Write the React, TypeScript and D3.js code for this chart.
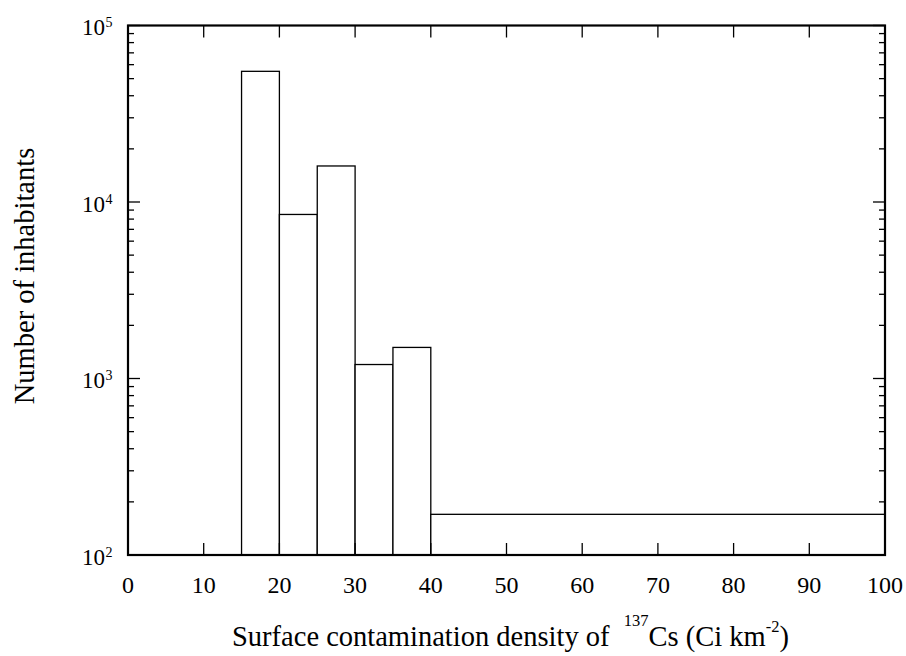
import React from "react";
import * as d3 from "d3";

const binStarts = [15, 20, 25, 30, 35, 40];
const binEnds = [20, 25, 30, 35, 40, 100];
const inhabitants = [55000, 8500, 16000, 1200, 1500, 170];
const xTicks = [0, 10, 20, 30, 40, 50, 60, 70, 80, 90, 100];
const yDecades = [2, 3, 4, 5];

const W = 906;
const H = 656;
const M = { left: 128, right: 21, top: 25.5, bottom: 101 };

export default function App() {
  const x = d3.scaleLinear().domain([0, 100]).range([M.left, W - M.right]);
  const y = d3.scaleLog().domain([100, 100000]).range([H - M.bottom, M.top]);
  const fs = { fontFamily: "Liberation Serif" };
  const minor: number[] = [];
  for (let d = 2; d < 5; d++) {
    for (let k = 2; k <= 9; k++) minor.push(k * Math.pow(10, d));
  }
  const x0 = x(0), x1 = x(100), yTop = y(100000), yBot = y(100);
  return (
    <svg width={W} height={H} style={{ position: "absolute", left: 0, top: 0, background: "#fff" }}>
      <rect x={0} y={0} width={W} height={H} fill="#fff" />
      {binStarts.map((s, i) => (
        <rect key={i} x={x(s)} y={y(inhabitants[i])} width={x(binEnds[i]) - x(s)}
          height={yBot - y(inhabitants[i])} fill="#fff" stroke="#000" strokeWidth={1.3} />
      ))}
      {xTicks.map((t) => (
        <g key={t}>
          <line x1={x(t)} x2={x(t)} y1={yBot} y2={yBot - 12} stroke="#000" strokeWidth={1.3} />
          <line x1={x(t)} x2={x(t)} y1={yTop} y2={yTop + 12} stroke="#000" strokeWidth={1.3} />
          <text x={x(t)} y={593} textAnchor="middle" style={fs} fontSize={24}>{t}</text>
        </g>
      ))}
      {yDecades.map((d) => (
        <g key={d}>
          <line x1={x0} x2={x0 + 12} y1={y(Math.pow(10, d))} y2={y(Math.pow(10, d))} stroke="#000" strokeWidth={1.3} />
          <line x1={x1} x2={x1 - 12} y1={y(Math.pow(10, d))} y2={y(Math.pow(10, d))} stroke="#000" strokeWidth={1.3} />
          <text x={105} y={y(Math.pow(10, d)) + 9.5} textAnchor="end" style={fs} fontSize={23}>10</text>
          <text x={105.5} y={y(Math.pow(10, d)) + 1.5} textAnchor="start" style={fs} fontSize={14}>{d}</text>
        </g>
      ))}
      {minor.map((v) => (
        <g key={v}>
          <line x1={x0} x2={x0 + 6} y1={y(v)} y2={y(v)} stroke="#000" strokeWidth={1.3} />
          <line x1={x1} x2={x1 - 6} y1={y(v)} y2={y(v)} stroke="#000" strokeWidth={1.3} />
        </g>
      ))}
      <rect x={x0} y={yTop} width={x1 - x0} height={yBot - yTop} fill="none" stroke="#000" strokeWidth={2.2} />
      <text x={232} y={646} style={fs} fontSize={28.5}>
        Surface contamination density of{"\u00A0\u00A0"}
        <tspan fontSize={16.5} dy={-20}>137</tspan>
        <tspan dy={20}>Cs (Ci km</tspan>
        <tspan fontSize={16.5} dy={-14}>-2</tspan>
        <tspan dy={14}>)</tspan>
      </text>
      <text transform={`translate(34, 276) rotate(-90)`} textAnchor="middle"
        style={fs} fontSize={28.5}>Number of inhabitants</text>
    </svg>
  );
}
